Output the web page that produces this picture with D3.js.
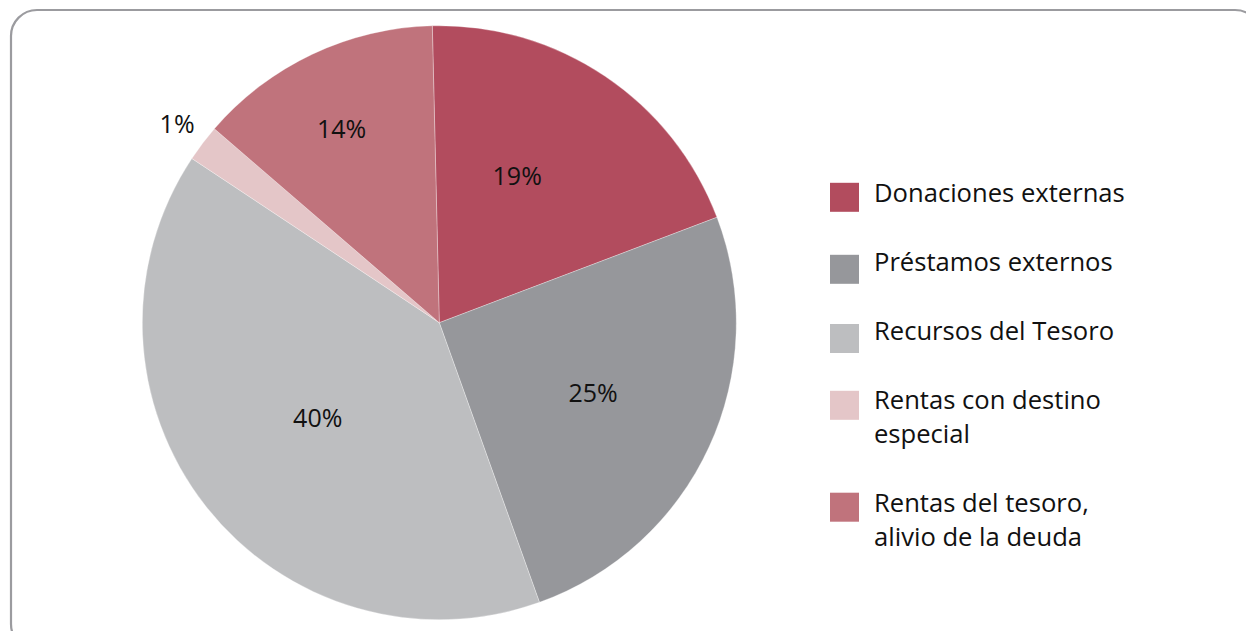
<!DOCTYPE html>
<html><head><meta charset="utf-8">
<script src="https://cdn.jsdelivr.net/npm/d3@7"></script>
<style>html,body{margin:0;padding:0;background:#fff;}svg{display:block;}</style>
</head><body>
<svg id="chart" width="1246" height="631"></svg>
<script>
const categories = ["Donaciones externas","Préstamos externos","Recursos del Tesoro","Rentas con destino especial","Rentas del tesoro, alivio de la deuda"];
const legendLines = [["Donaciones externas"],["Préstamos externos"],["Recursos del Tesoro"],["Rentas con destino","especial"],["Rentas del tesoro,","alivio de la deuda"]];
const values = [19.6, 25.3, 39.8, 2.0, 13.3];
const valueLabels = ["19%","25%","40%","1%","14%"];
const colors = ["#B24C5E","#96979B","#BDBEC0","#E4C6C8","#C0737C"];

const svg = d3.select("#chart");
const font = "'Open Sans', 'Noto Sans', sans-serif";

svg.append("rect").attr("x",11).attr("y",10).attr("width",1250).attr("height",640)
  .attr("rx",26).attr("ry",26).attr("fill","none").attr("stroke","#9b9b9f").attr("stroke-width",2.2);

const cx = 439.3, cy = 322.7, R = 297;
const startA = -1.35 * Math.PI/180;
const pie = d3.pie().sort(null).startAngle(startA).endAngle(startA + 2*Math.PI)(values);
const arc = d3.arc().innerRadius(0).outerRadius(R);
const g = svg.append("g").attr("transform",`translate(${cx},${cy})`);
g.selectAll("path").data(pie).join("path")
  .attr("d",arc).attr("fill",(d,i)=>colors[i]).attr("stroke","#fff").attr("stroke-width",0.6).attr("stroke-opacity",0.5);

// label placement (layout, "best fit" style): radius fraction and angle shift per slice
const labelRadiusFrac = [0.56, 0.57, 0.52, 1.108, 0.73];
const labelAngleShift = [-6, 0, 0, 0, -1.5];
g.selectAll("text.lbl").data(pie).join("text").attr("class","lbl")
  .attr("transform",(d,i)=>{
    const a = (d.startAngle + d.endAngle)/2 + labelAngleShift[i]*Math.PI/180;
    const r = R*labelRadiusFrac[i];
    return `translate(${r*Math.sin(a)},${-r*Math.cos(a)})`;
  })
  .attr("text-anchor","middle").attr("dy","0.35em")
  .attr("font-family",font).attr("font-size",25).attr("fill","#111")
  .text((d,i)=>valueLabels[i]);

// legend layout
const swatchCenterY = [197.3, 269.3, 338.5, 405.3, 507.2];
const textBaselineY = [202, 271, 340, 408.5, 511.5];
const lg = svg.append("g");
categories.forEach((c,i)=>{
  lg.append("rect").attr("x",830).attr("y",swatchCenterY[i]-14.5).attr("width",29).attr("height",29).attr("fill",colors[i]);
  const t = lg.append("text").attr("x",874).attr("y",textBaselineY[i])
    .attr("font-family",font).attr("font-size",25.6).attr("fill","#111");
  legendLines[i].forEach((l,j)=>{
    t.append("tspan").attr("x",874).attr("dy", j===0?0:34.3).text(l);
  });
});
</script>
</body></html>
